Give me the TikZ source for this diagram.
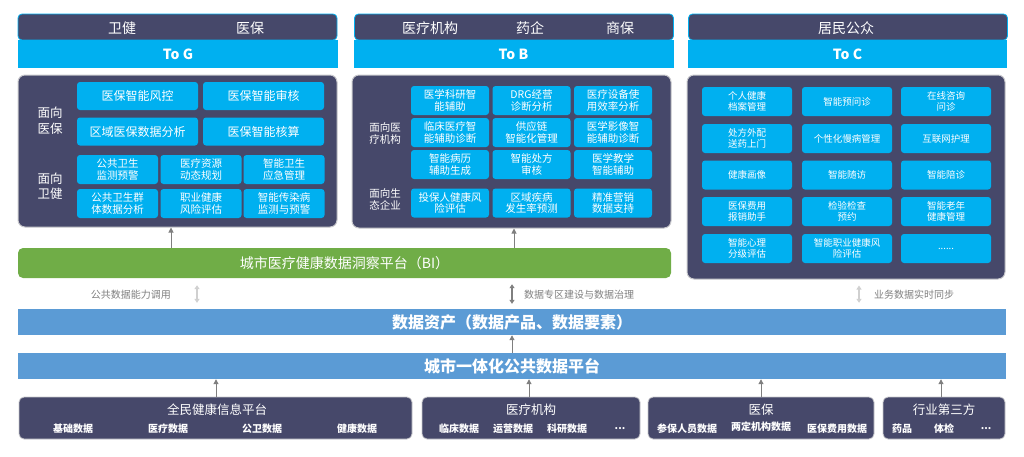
\documentclass[tikz,border=0pt]{standalone}
\usepackage{fontspec}
\setmainfont{Noto Sans CJK SC}
\usetikzlibrary{arrows.meta,calc}
\definecolor{navy}{HTML}{46486A}
\definecolor{cyanb}{HTML}{00B0F0}
\definecolor{greenb}{HTML}{70AD47}
\definecolor{blueb}{HTML}{5B9BD5}
\definecolor{grayt}{HTML}{7F7F7F}
\definecolor{lgray}{HTML}{D0D0D0}
\definecolor{edge}{HTML}{C8C8CC}
\tikzset{
  box/.style={fill=cyanb, rounded corners=3pt, text=white, align=center, inner sep=0pt},
  gbig/.style={box, minimum width=121pt, minimum height=28pt, font=\fontsize{12}{14}\selectfont},
  gsm/.style={box, minimum width=81pt, minimum height=29pt, font=\fontsize{10.5}{11.5}\selectfont},
  bsm/.style={box, minimum width=78pt, minimum height=29pt, font=\fontsize{10.5}{11.5}\selectfont},
  csm/.style={box, minimum width=90pt, minimum height=29pt, font=\fontsize{9.5}{10.5}\selectfont},
  body/.style={fill=navy, draw=edge, line width=1pt, rounded corners=7pt, inner sep=0pt},
  header/.style={fill=navy, draw=cyanb, line width=0.8pt, rounded corners=4pt, minimum height=26pt, inner sep=0pt},
  band/.style={fill=cyanb, minimum height=28pt, inner sep=0pt, text=white, font=\fontsize{14}{16}\selectfont\bfseries},
  hdtext/.style={text=white, font=\fontsize{14}{16}\selectfont, inner sep=0pt},
  lab/.style={text=white, align=center, inner sep=0pt},
  arr/.style={draw=grayt, line width=1pt, -{Triangle[width=5pt,length=5pt]}},
  dbl/.style={draw=lgray, line width=1.2pt, {Triangle[width=5pt,length=4pt]}-{Triangle[width=5pt,length=4pt]}},
  dbld/.style={draw=grayt, line width=1.2pt, {Triangle[width=5pt,length=4pt]}-{Triangle[width=5pt,length=4pt]}},
  note/.style={text=grayt, font=\fontsize{10}{12}\selectfont, inner sep=0pt},
  bar/.style={fill=blueb, text=white, font=\fontsize{16}{18}\selectfont\bfseries, inner sep=0pt, minimum height=26pt, minimum width=988pt},
  src/.style={fill=navy, draw=edge, line width=0.8pt, rounded corners=5pt, minimum height=42pt, inner sep=0pt},
  srct/.style={text=white, font=\fontsize{12.5}{14}\selectfont, inner sep=0pt},
  srci/.style={text=white, font=\fontsize{10}{12}\selectfont\bfseries, inner sep=0pt}
}
\begin{document}
\begin{tikzpicture}[x=1pt,y=-1pt]
\useasboundingbox (0,0) rectangle (1024,456);

% ---------- To G ----------
\node[header, minimum width=319pt] (gh) at (177.5,27) {};
\node[band, minimum width=320pt] (gband) at (178,54) {To G};
\node[hdtext] (gh1) at (122,28) {卫健};
\node[hdtext] (gh2) at (250,28) {医保};
\node[body, minimum width=319pt, minimum height=152pt] (gbody) at (177.5,151) {};
\node[lab, font=\fontsize{12.5}{15.5}\selectfont] (gl1) at (50,120.5) {面向\\医保};
\node[lab, font=\fontsize{12.5}{15.5}\selectfont] (gl2) at (50,186) {面向\\卫健};
\node[gbig] (g11) at (137.5,96) {医保智能风控};
\node[gbig] (g12) at (263.5,96) {医保智能审核};
\node[gbig] (g21) at (137.5,131.5) {区域医保数据分析};
\node[gbig] (g22) at (263.5,131.5) {医保智能核算};
\node[gsm] (g31) at (117.5,169.5) {公共卫生\\监测预警};
\node[gsm] (g32) at (201,169.5) {医疗资源\\动态规划};
\node[gsm] (g33) at (284,169.5) {智能卫生\\应急管理};
\node[gsm] (g41) at (117.5,203.5) {公共卫生群\\体数据分析};
\node[gsm] (g42) at (201,203.5) {职业健康\\风险评估};
\node[gsm] (g43) at (284,203.5) {智能传染病\\监测与预警};

% ---------- To B ----------
\node[header, minimum width=319pt] (bh) at (514,27) {};
\node[band, minimum width=320pt] (bband) at (513.5,54) {To B};
\node[hdtext] (bh1) at (430,28) {医疗机构};
\node[hdtext] (bh2) at (530,28) {药企};
\node[hdtext] (bh3) at (620,28) {商保};
\node[body, minimum width=319pt, minimum height=153pt] (bbody) at (511.5,151.5) {};
\node[lab, font=\fontsize{10.5}{12}\selectfont] (bl1) at (385,133) {面向医\\疗机构};
\node[lab, font=\fontsize{10.5}{12}\selectfont] (bl2) at (385,199.5) {面向生\\态企业};
\node[bsm] (b11) at (450,100.5) {医学科研智\\能辅助};
\node[bsm] (b12) at (531.5,100.5) {DRG经营\\诊断分析};
\node[bsm] (b13) at (613,100.5) {医疗设备使\\用效率分析};
\node[bsm] (b21) at (450,132.5) {临床医疗智\\能辅助诊断};
\node[bsm] (b22) at (531.5,132.5) {供应链\\智能化管理};
\node[bsm] (b23) at (613,132.5) {医学影像智\\能辅助诊断};
\node[bsm] (b31) at (450,164.5) {智能病历\\辅助生成};
\node[bsm] (b32) at (531.5,164.5) {智能处方\\审核};
\node[bsm] (b33) at (613,164.5) {医学教学\\智能辅助};
\node[bsm] (b41) at (450,203) {投保人健康风\\险评估};
\node[bsm] (b42) at (531.5,203) {区域疾病\\发生率预测};
\node[bsm] (b43) at (613,203) {精准营销\\数据支持};

% ---------- To C ----------
\node[header, minimum width=319pt] (ch) at (848,27) {};
\node[band, minimum width=319pt] (cband) at (847.5,54) {To C};
\node[hdtext] (ch1) at (846,28) {居民公众};
\node[body, minimum width=318pt, minimum height=204pt] (cbody) at (846,177) {};
\node[csm] (c11) at (747,101.5) {个人健康\\档案管理};
\node[csm] (c12) at (847,101.5) {智能预问诊};
\node[csm] (c13) at (946,101.5) {在线咨询\\问诊};
\node[csm] (c21) at (747,138.5) {处方外配\\送药上门};
\node[csm] (c22) at (847,138.5) {个性化慢病管理};
\node[csm] (c23) at (946,138.5) {互联网护理};
\node[csm] (c31) at (747,175) {健康画像};
\node[csm] (c32) at (847,175) {智能随访};
\node[csm] (c33) at (946,175) {智能陪诊};
\node[csm] (c41) at (747,211.5) {医保费用\\报销助手};
\node[csm] (c42) at (847,211.5) {检验检查\\预约};
\node[csm] (c43) at (946,211.5) {智能老年\\健康管理};
\node[csm] (c51) at (747,248.5) {智能心理\\分级评估};
\node[csm] (c52) at (847,248.5) {智能职业健康风\\险评估};
\node[csm] (c53) at (946,248.5) {......};

% ---------- BI bar ----------
\node[fill=greenb, rounded corners=5pt, minimum width=653pt, minimum height=30pt, inner sep=0pt,
      text=white, font=\fontsize{14}{16}\selectfont] (bi) at (344.5,263) {城市医疗健康数据洞察平台（BI）};

% ---------- data bars ----------
\node[bar] (assets) at (512,322) {数据资产（数据产品、数据要素）};
\node[bar] (city) at (512,366) {城市一体化公共数据平台};

% ---------- sources ----------
\node[src, minimum width=393pt] (s1) at (215.5,418) {};
\node[srct] (s1t) at (217,410) {全民健康信息平台};
\node[srci] (s1a) at (73,429) {基础数据};
\node[srci] (s1b) at (168,429) {医疗数据};
\node[srci] (s1c) at (262,429) {公卫数据};
\node[srci] (s1d) at (357,429) {健康数据};

\node[src, minimum width=218pt] (s2) at (531,418) {};
\node[srct] (s2t) at (531,410) {医疗机构};
\node[srci] (s2a) at (459,429) {临床数据};
\node[srci] (s2b) at (513,429) {运营数据};
\node[srci] (s2c) at (567,429) {科研数据};
\node[srci] (s2d) at (620,429) {...};

\node[src, minimum width=226pt] (s3) at (761,418) {};
\node[srct] (s3t) at (761,410) {医保};
\node[srci] (s3a) at (687,429) {参保人员数据};
\node[srci] (s3b) at (761,427) {两定机构数据};
\node[srci] (s3c) at (837,429) {医保费用数据};

\node[src, minimum width=122pt] (s4) at (944,418) {};
\node[srct] (s4t) at (944,410) {行业第三方};
\node[srci] (s4a) at (902,429) {药品};
\node[srci] (s4b) at (944,429) {体检};
\node[srci] (s4c) at (986,429) {...};

% ---------- arrow x positions ----------
\coordinate (xg) at (171,0);
\coordinate (xb) at (514,0);
\coordinate (xl) at (197,0);
\coordinate (xm) at (512,0);
\coordinate (xr) at (859,0);
\coordinate (x1) at (216,0);
\coordinate (x2) at (529,0);
\coordinate (x3) at (761,0);
\coordinate (x4) at (941,0);

% arrows BI -> bodies
\draw[arr] (bi.north -| xg) -- (gbody.south -| xg);
\draw[arr] (bi.north -| xb) -- (bbody.south -| xb);

% double arrows
\draw[dbl] ($(bi.south -| xl)+(0,7)$) -- ($(assets.north -| xl)+(0,-6)$);
\draw[dbld] ($(bi.south -| xm)+(0,6)$) -- ($(assets.north -| xm)+(0,-5)$);
\draw[dbl] ($(cbody.south -| xr)+(0,6)$) -- ($(assets.north -| xr)+(0,-6)$);
\node[note, anchor=east] (n1) at (171,295) {公共数据能力调用};
\node[note, anchor=west] (n2) at (524,295) {数据专区建设与数据治理};
\node[note, anchor=west] (n3) at (874,295) {业务数据实时同步};

% city -> assets
\draw[arr] (city.north -| xm) -- (assets.south -| xm);

% sources -> city
\draw[arr] (s1.north -| x1) -- (city.south -| x1);
\draw[arr] (s2.north -| x2) -- (city.south -| x2);
\draw[arr] (s3.north -| x3) -- (city.south -| x3);
\draw[arr] (s4.north -| x4) -- (city.south -| x4);
\end{tikzpicture}
\end{document}
